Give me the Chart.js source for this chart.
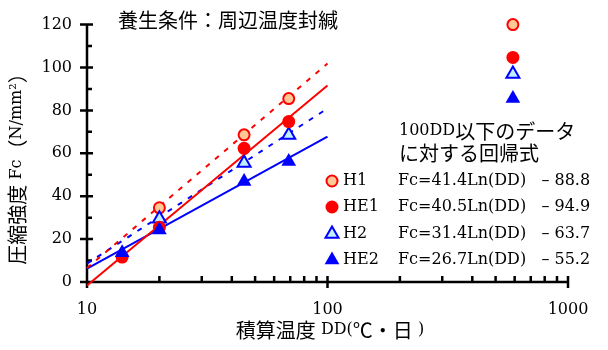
<!DOCTYPE html>
<html>
<head>
<meta charset="utf-8">
<script src="https://cdn.jsdelivr.net/npm/chart.js@4/dist/chart.umd.min.js"></script>
<style>
  html, body { margin: 0; padding: 0; background: #fff; }
  canvas { display: block; }
</style>
</head>
<body>
<canvas id="c" width="608" height="350"></canvas>
<script>
// Compressive strength Fc against cumulative temperature DD (log scale)
const seriesNames = ['H1', 'HE1', 'H2', 'HE2'];
const ddH1 = [20, 45, 69, 590];
const fcH1 = [34.6, 68.6, 85.5, 120];
const ddHE1 = [14, 20, 45, 69, 590];
const fcHE1 = [11.6, 25.5, 62.3, 74.8, 104.7];
const ddH2 = [20, 45, 69, 590];
const fcH2 = [29.5, 55.5, 68.5, 97];
const ddHE2 = [14, 20, 45, 69, 590];
const fcHE2 = [13.6, 24.3, 46.8, 56.2, 85.5];

// Regression Fc = a * Ln(DD) + b, fitted to the data up to 100DD
const regSlope = [41.4, 40.5, 31.4, 26.7];
const regIntercept = [-88.8, -94.9, -63.7, -55.2];
const regRange = [10, 100];

const xTickValues = [10, 100, 1000];
const yTickValues = [0, 20, 40, 60, 80, 100, 120];

const titleText = '養生条件：周辺温度封緘';
const noteLines = ['100DD以下のデータ', 'に対する回帰式'];
const xTitle = '積算温度 DD(℃・日 )';
const yTitle = '圧縮強度 Fc（N/mm²）';

const ddSets = [ddH1, ddHE1, ddH2, ddHE2];
const fcSets = [fcH1, fcHE1, fcH2, fcHE2];

const styles = [
  { shape: 'circle',   r: 5.5, fill: '#ffc896', stroke: '#ff0000', bw: 2, line: '#ff0000', dash: [5, 7], order: 4 },
  { shape: 'circle',   r: 6.5, fill: '#ff0000', stroke: '#ff0000', bw: 0, line: '#ff0000', dash: [],     order: 2 },
  { shape: 'triangle', r: 7.5, fill: '#c0f0ff', stroke: '#0000ff', bw: 2, line: '#0000ff', dash: [5, 7], order: 3 },
  { shape: 'triangle', r: 8.5, fill: '#0000ff', stroke: '#0000ff', bw: 0, line: '#0000ff', dash: [],     order: 1 }
];

const LATIN_FONT = "16px 'DejaVu Serif', 'Liberation Serif', serif";
const CJK_FONT = "20px 'Noto Sans CJK JP', sans-serif";

Chart.defaults.font.family = "'DejaVu Serif', 'Liberation Serif', serif";
Chart.defaults.font.size = 16;
Chart.defaults.color = '#000';

function isCJK(ch) {
  const c = ch.codePointAt(0);
  return c >= 0x2E80 || (c >= 0x2100 && c <= 0x214F);
}
function splitRuns(text) {
  const out = [];
  for (const ch of text) {
    const cjk = isCJK(ch);
    if (out.length && out[out.length - 1].cjk === cjk) out[out.length - 1].t += ch;
    else out.push({ t: ch, cjk });
  }
  return out;
}
function textWidth(ctx, text) {
  let w = 0;
  for (const r of splitRuns(text)) {
    ctx.font = r.cjk ? CJK_FONT : LATIN_FONT;
    w += ctx.measureText(r.t).width;
  }
  return w;
}
function drawMixed(ctx, text, x, y, align) {
  const total = textWidth(ctx, text);
  let cx = align === 'center' ? x - total / 2 : align === 'right' ? x - total : x;
  ctx.textBaseline = 'middle';
  ctx.textAlign = 'left';
  ctx.fillStyle = '#000';
  for (const r of splitRuns(text)) {
    ctx.font = r.cjk ? CJK_FONT : LATIN_FONT;
    ctx.fillText(r.t, cx, y);
    cx += ctx.measureText(r.t).width;
  }
}
function drawMarker(ctx, st, x, y) {
  ctx.save();
  ctx.beginPath();
  if (st.shape === 'circle') {
    ctx.arc(x, y, st.r, 0, Math.PI * 2);
  } else {
    let rad = 0;
    for (let k = 0; k < 3; k++) {
      const px = x + Math.sin(rad) * st.r, py = y - Math.cos(rad) * st.r;
      if (k === 0) ctx.moveTo(px, py); else ctx.lineTo(px, py);
      rad += Math.PI * 2 / 3;
    }
    ctx.closePath();
  }
  ctx.fillStyle = st.fill;
  ctx.fill();
  if (st.bw > 0) {
    ctx.lineWidth = st.bw;
    ctx.strokeStyle = st.stroke;
    ctx.stroke();
  }
  ctx.restore();
}

const datasets = [];
// regression lines
regSlope.forEach((a, i) => {
  const st = styles[i];
  datasets.push({
    label: seriesNames[i] + ' fit',
    data: regRange.map(d => ({ x: d, y: a * Math.log(d) + regIntercept[i] })),
    showLine: true,
    borderColor: st.line,
    borderWidth: 2,
    borderDash: st.dash,
    pointRadius: 0,
    fill: false,
    clip: false,
    order: 10
  });
});
// measured points
seriesNames.forEach((name, i) => {
  const st = styles[i];
  datasets.push({
    label: name,
    data: ddSets[i].map((d, k) => ({ x: d, y: fcSets[i][k] })),
    showLine: false,
    pointStyle: st.shape,
    pointRadius: st.r,
    pointHoverRadius: st.r,
    pointBackgroundColor: st.fill,
    pointBorderColor: st.stroke,
    pointBorderWidth: st.bw,
    clip: false,
    order: st.order
  });
});

// axes, tick marks and in-plot text
const decorations = {
  id: 'decorations',
  beforeDatasetsDraw(chart) {
    const { ctx, scales: { x, y } } = chart;
    const left = x.getPixelForValue(10), right = x.getPixelForValue(1000);
    const top = y.getPixelForValue(120), bottom = y.getPixelForValue(0);
    ctx.save();
    ctx.strokeStyle = '#000';
    ctx.lineWidth = 2.5;
    ctx.lineCap = 'butt';
    ctx.beginPath();
    ctx.moveTo(left, top); ctx.lineTo(left, bottom);
    ctx.moveTo(left, bottom); ctx.lineTo(right, bottom);
    // y: major ticks cross the axis, minor ticks point inward
    for (let v = 0; v <= 120; v += 10) {
      const py = y.getPixelForValue(v);
      if (v % 20 === 0) { ctx.moveTo(left - 7, py); ctx.lineTo(left + 6, py); }
      else { ctx.moveTo(left, py); ctx.lineTo(left + 5, py); }
    }
    // x: decades cross the axis, intermediate ticks point inward
    for (let dec = 10; dec <= 1000; dec *= 10) {
      for (let m = 1; m <= 9; m++) {
        const v = dec * m;
        if (v > 1000) break;
        const px = x.getPixelForValue(v);
        if (m === 1) { ctx.moveTo(px, bottom - 6); ctx.lineTo(px, bottom + 6); }
        else { ctx.moveTo(px, bottom); ctx.lineTo(px, bottom - 6); }
      }
    }
    ctx.stroke();
    ctx.restore();
  },
  afterDraw(chart) {
    const { ctx } = chart;
    ctx.save();
    drawMixed(ctx, titleText, 118, 20, 'left');
    drawMixed(ctx, noteLines[0], 399, 131, 'left');
    drawMixed(ctx, noteLines[1], 399, 153, 'left');
    const rowY = [181, 207, 234, 260];
    seriesNames.forEach((name, i) => {
      drawMarker(ctx, styles[i], 332, rowY[i]);
      drawMixed(ctx, name, 343, rowY[i], 'left');
      const eq = 'Fc=' + regSlope[i].toFixed(1) + 'Ln(DD)   \u2013 ' + Math.abs(regIntercept[i]).toFixed(1);
      drawMixed(ctx, eq, 398, rowY[i], 'left');
    });
    drawMixed(ctx, xTitle, 330, 330, 'center');
    ctx.translate(17, 164);
    ctx.rotate(-Math.PI / 2);
    drawMixed(ctx, yTitle, 0, 0, 'center');
    ctx.restore();
  }
};

new Chart(document.getElementById('c'), {
  type: 'scatter',
  data: { datasets },
  options: {
    responsive: false,
    devicePixelRatio: 1,
    animation: false,
    layout: { padding: { top: 15, right: 40, left: 0, bottom: 0 } },
    plugins: { legend: { display: false }, tooltip: { enabled: false } },
    scales: {
      x: {
        type: 'logarithmic',
        min: 10,
        max: 1000,
        grid: { display: false, drawTicks: false },
        border: { display: false },
        afterBuildTicks(scale) { scale.ticks = xTickValues.map(v => ({ value: v })); },
        afterFit(scale) { scale.height = 68; },
        ticks: {
          autoSkip: false,
          maxRotation: 0,
          padding: 18,
          color: '#000',
          font: { family: "'DejaVu Serif', 'Liberation Serif', serif", size: 16 },
          callback: v => String(v)
        }
      },
      y: {
        min: 0,
        max: 120,
        grid: { display: false, drawTicks: false },
        border: { display: false },
        afterBuildTicks(scale) { scale.ticks = yTickValues.map(v => ({ value: v })); },
        afterFit(scale) { scale.width = 87; },
        ticks: {
          padding: 15,
          color: '#000',
          font: { family: "'DejaVu Serif', 'Liberation Serif', serif", size: 16 },
          callback: v => String(v)
        }
      }
    }
  },
  plugins: [decorations]
});
</script>
</body>
</html>
